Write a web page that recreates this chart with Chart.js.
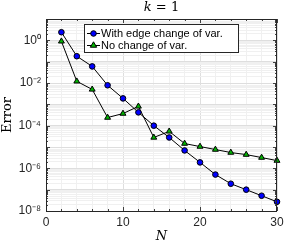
<!DOCTYPE html>
<html><head><meta charset="utf-8">
<script src="https://cdn.jsdelivr.net/npm/chart.js@4/dist/chart.umd.min.js"></script>
<style>html,body{margin:0;padding:0;background:#fff;}canvas{display:block;}</style>
</head><body>
<canvas id="c" width="306" height="246"></canvas>
<script>
const titleText = ['k', ' = 1'];
const xLabel = 'N';
const yLabel = 'Error';
const nValues = [2,4,6,8,10,12,14,16,18,20,22,24,26,28,30];
const withEdge = [2.4,0.18,0.06,7.8e-3,1.9e-3,4.2e-4,1.0e-4,2.8e-5,6.9e-6,1.9e-6,5.1e-7,1.9e-7,1.0e-7,5.2e-8,2.7e-8];
const noChange = [0.9,0.012,5e-3,2.4e-4,3.7e-4,8e-4,2.8e-5,5.4e-5,1.45e-5,1.05e-5,7.6e-6,5.5e-6,4.4e-6,3.2e-6,2.3e-6];
const seriesNames = ['With edge change of var.', 'No change of var.'];
const xTickLabels = [0,10,20,30];
const yTickExponents = [0,-2,-4,-6,-8];

const sup = {'0':'⁰','1':'¹','2':'²','3':'³','4':'⁴','5':'⁵','6':'⁶','7':'⁷','8':'⁸','9':'⁹','-':'⁻'};
function supStr(n){return String(n).split('').map(c=>sup[c]).join('');}

const blue = '#0000ff', green = '#00b400';

const boxPlugin = {
  id:'boxPlugin',
  afterDraw(chart){
    const ctx = chart.ctx, a = chart.chartArea;
    const xs = chart.scales.x, ys = chart.scales.y;
    ctx.save();
    ctx.strokeStyle = '#404040'; ctx.lineWidth = 1;
    ctx.beginPath();
    for (let v=0; v<=30; v+=2){
      const px = Math.round(xs.getPixelForValue(v))+0.5;
      const len = (v%10===0)?4:2;
      ctx.moveTo(px, a.bottom); ctx.lineTo(px, a.bottom-len);
      ctx.moveTo(px, a.top); ctx.lineTo(px, a.top+len);
    }
    for (let e=-8; e<=0; e++){
      for (let k=1;k<=9;k++){
        const v = k*Math.pow(10,e);
        const py = Math.round(ys.getPixelForValue(v))+0.5;
        const len = (k===1)?4:2;
        ctx.moveTo(a.left, py); ctx.lineTo(a.left+len, py);
        ctx.moveTo(a.right, py); ctx.lineTo(a.right-len, py);
      }
    }
    ctx.stroke();
    ctx.strokeStyle = '#262626';
    ctx.strokeRect(Math.round(a.left)+0.5, Math.round(a.top)+0.5, Math.round(a.right-a.left)-1, Math.round(a.bottom-a.top));
    ctx.fillStyle = '#000';
    ctx.textBaseline = 'middle';
    const fi = 'italic 13px "DejaVu Serif", "Liberation Serif", serif';
    const fn = '13px "DejaVu Serif", "Liberation Serif", serif';
    ctx.font = fi; const w1 = ctx.measureText(titleText[0]).width;
    ctx.font = fn; const w2 = ctx.measureText(titleText[1]).width;
    const cx = (a.left+a.right)/2;
    let tx = cx - (w1+w2)/2;
    ctx.textAlign='left';
    ctx.font = fi; ctx.fillText(titleText[0], tx, 8);
    ctx.font = fn; ctx.fillText(titleText[1], tx+w1, 8);
    const lx = 84, ly = 24, lw = 154, lh = 28;
    ctx.fillStyle = '#fff';
    ctx.fillRect(lx, ly, lw, lh);
    ctx.strokeStyle = '#262626';
    ctx.strokeRect(lx+0.5, ly+0.5, lw, lh);
    ctx.font = '11px "Liberation Sans", Arial, sans-serif';
    chart.data.datasets.forEach((ds,i)=>{
      const y = ly + 9 + i*12;
      ctx.strokeStyle = '#000'; ctx.lineWidth = 1;
      ctx.beginPath(); ctx.moveTo(lx+3, y+0.5); ctx.lineTo(lx+16, y+0.5); ctx.stroke();
      ctx.fillStyle = ds.pointBackgroundColor;
      ctx.beginPath();
      if (ds.pointStyle==='triangle'){
        const r = 3.2;
        ctx.moveTo(lx+9.5, y-r); ctx.lineTo(lx+9.5+r, y+r*0.7); ctx.lineTo(lx+9.5-r, y+r*0.7); ctx.closePath();
      } else {
        ctx.arc(lx+9.5, y+0.5, 2.8, 0, Math.PI*2);
      }
      ctx.fill(); ctx.stroke();
      ctx.fillStyle = '#000';
      ctx.textBaseline='middle';
      ctx.fillText(ds.label, lx+17, y+1);
    });
    ctx.restore();
  }
};

new Chart(document.getElementById('c'), {
  type:'line',
  data:{
    labels:nValues,
    datasets:[
      {label:seriesNames[0], data:nValues.map((n,i)=>({x:n,y:withEdge[i]})), borderColor:'#000', borderWidth:1, clip:false,
       pointStyle:'circle', pointRadius:2.8, pointBackgroundColor:blue, pointBorderColor:'#000', pointBorderWidth:1, tension:0},
      {label:seriesNames[1], data:nValues.map((n,i)=>({x:n,y:noChange[i]})), borderColor:'#000', borderWidth:1, clip:false,
       pointStyle:'triangle', pointRadius:3.4, pointBackgroundColor:green, pointBorderColor:'#000', pointBorderWidth:1, tension:0}
    ]
  },
  options:{
    responsive:false, animation:false, devicePixelRatio:1,
    layout:{padding:{top:19,right:29,left:0,bottom:0}},
    plugins:{legend:{display:false}, title:{display:false}, tooltip:{enabled:false}},
    scales:{
      x:{type:'linear', min:0, max:30,
        afterFit(s){s.height=35;},
        afterBuildTicks(s){const t=[];for(let v=0;v<=30;v+=2)t.push({value:v});s.ticks=t;},
        ticks:{autoSkip:false, maxRotation:0, padding:4, color:'#262626',
          font:{family:'"Liberation Sans", Arial, sans-serif', size:12},
          callback(v){return xTickLabels.includes(v)?String(v):'';}},
        grid:{drawTicks:false, color(c){const v=c.tick&&c.tick.value; return (v%10===0)?'#dedede':'#f0f0f0';}},
        border:{display:false},
        title:{display:true, text:xLabel, padding:{top:0,bottom:2}, color:'#000',
          font:{family:'"DejaVu Serif","Liberation Serif",serif', size:13, style:'italic'}}
      },
      y:{type:'logarithmic', min:1e-8, max:10,
        afterFit(s){s.width=46;},
        afterBuildTicks(s){const t=[];for(let e=-8;e<=0;e++){for(let k=1;k<=9;k++)t.push({value:k*Math.pow(10,e)});}t.push({value:10});s.ticks=t;},
        ticks:{autoSkip:false, padding:5, color:'#262626',
          font:{family:'"Liberation Sans", Arial, sans-serif', size:12},
          callback(v){const e=Math.log10(v);const r=Math.round(e);
            if(Math.abs(e-r)<1e-6 && yTickExponents.includes(r)) return '10'+supStr(r); return '';}},
        grid:{drawTicks:false, color(c){const v=c.tick&&c.tick.value; if(!v)return '#f0f0f0'; const e=Math.log10(v); return Math.abs(e-Math.round(e))<1e-6?'#dedede':'#f0f0f0';}},
        border:{display:false},
        title:{display:true, text:yLabel, padding:{top:0,bottom:0}, color:'#000',
          font:{family:'"DejaVu Serif","Liberation Serif",serif', size:13}}
      }
    }
  },
  plugins:[boxPlugin]
});
</script>
</body></html>
